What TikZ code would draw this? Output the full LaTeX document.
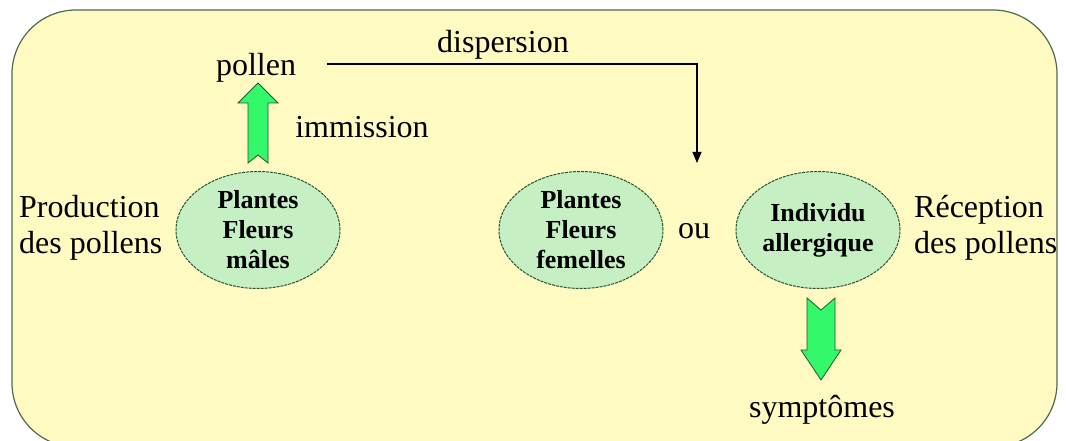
\documentclass[tikz,border=0pt]{standalone}
\usepackage{fontspec}
\setmainfont{Liberation Serif}
\usepackage{xcolor}
\usetikzlibrary{arrows.meta,positioning,shapes.geometric}

\definecolor{paper}{HTML}{FFF9C2}
\definecolor{frame}{HTML}{4F6B4F}
\definecolor{leaf}{HTML}{C6F0C4}
\definecolor{leafline}{HTML}{24552E}
\definecolor{fatgreen}{HTML}{33F86A}

\begin{document}
\begin{tikzpicture}[x=1pt,y=-1pt,
  plant/.style={ellipse,draw=leafline,line width=1pt,dash pattern=on 3pt off 1pt,fill=leaf,
    minimum width=164pt,minimum height=117pt,inner sep=0pt,align=center,
    font=\fontsize{26}{30}\selectfont\bfseries},
  word/.style={inner sep=0pt,align=left,font=\fontsize{32}{36}\selectfont},
  flow/.style={line width=1.2pt,-{Triangle[length=11pt,width=9pt]}},
  fat arrow/.style={fill=fatgreen,draw=leafline,line width=0.8pt}
]

\useasboundingbox (0,0) rectangle (1066,441);
\draw[frame,fill=paper,line width=1.2pt,rounded corners=64pt] (12,10) rectangle (1057,447);

% the three ellipses
\node[plant] (male)   at (258,230) {Plantes\\Fleurs\\mâles};
\node[plant] (female) at (581,230) {Plantes\\Fleurs\\femelles};
\node[plant] (person) at (818,230) {Individu\\allergique};

% texts
\node[word,anchor=west] (prod) at (19,228) {Production\\des pollens};
\node[word,anchor=west] (recv) at (914,228) {Réception\\des pollens};
\node[word] (pollen) at (256,68) {pollen};
\node[word] (disp) at (503,45) {dispersion};
\node[word] (imm) at (362,127) {immission};
\node[word] (ou) at (694,231) {ou};
\node[word] (sympt) at (822,410) {symptômes};

% dispersion line
\coordinate (drop) at (697,163);
\draw[flow] ([xshift=31pt,yshift=4pt]pollen.east) -| (drop);

% green block arrows
\coordinate (up) at (258,163);
\draw[fat arrow] (up) ++(-10,0) -- ++(10,-8) -- ++(10,8) -- ++(0,-60)
  -- ++(10,0) -- ++(-20,-20) -- ++(-20,20) -- ++(10,0) -- cycle;

\coordinate (down) at (821,298);
\draw[fat arrow] (down) ++(-14,0) -- ++(14,12) -- ++(14,-12) -- ++(0,52)
  -- ++(6,0) -- ++(-20,30) -- ++(-20,-30) -- ++(6,0) -- cycle;

\end{tikzpicture}
\end{document}
